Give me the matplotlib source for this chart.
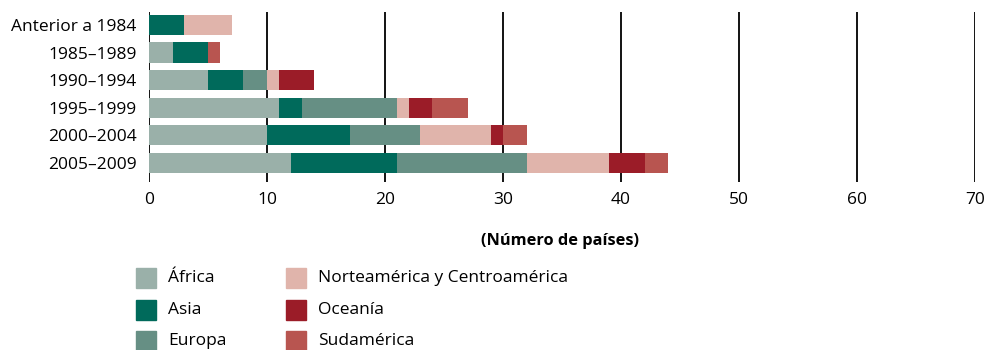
import matplotlib
matplotlib.use('Agg')
import matplotlib.pyplot as plt
from matplotlib.patches import Rectangle

periods = ['Anterior a 1984', '1985–1989', '1990–1994', '1995–1999', '2000–2004', '2005–2009']
regions = ['África', 'Asia', 'Europa', 'Norteamérica y Centroamérica', 'Oceanía', 'Sudamérica']
africa = [0, 2, 5, 11, 10, 12]
asia = [3, 3, 3, 2, 7, 9]
europa = [0, 0, 2, 8, 6, 11]
norteamerica = [4, 0, 1, 1, 6, 7]
oceania = [0, 0, 3, 2, 1, 3]
sudamerica = [0, 1, 0, 3, 2, 2]
xticks = [0, 10, 20, 30, 40, 50, 60, 70]

colors = ['#9AB0A9', '#006A5B', '#668F84', '#E0B4AB', '#9B1C28', '#B85550']
series = [africa, asia, europa, norteamerica, oceania, sudamerica]

plt.rcParams['font.family'] = ['Open Sans', 'DejaVu Sans']

W, H = 986, 350
fig = plt.figure(figsize=(W / 100, H / 100), dpi=100)
ax = fig.add_axes([149 / W, 1 - 182 / H, (975 - 149) / W, (182 - 12) / H])

ypos = list(range(len(periods)))
left = [0] * len(periods)
for vals, col in zip(series, colors):
    ax.barh(ypos, vals, left=left, height=0.73, color=col, zorder=3)
    left = [l + v for l, v in zip(left, vals)]

for x in xticks:
    ax.axvline(x, color='black', linewidth=1.3, zorder=1)

ax.set_xlim(0, 70)
ax.set_ylim(5.69, -0.47)
ax.set_yticks(ypos)
ax.set_yticklabels(periods, fontsize=12.5)
ax.set_xticks(xticks)
ax.set_xticklabels([str(x) for x in xticks], fontsize=12.5)
ax.tick_params(axis='y', length=0, pad=9)
ax.tick_params(axis='x', length=0, pad=7)
for s in ax.spines.values():
    s.set_visible(False)

fig.text(560 / W, 1 - 241 / H, '(Número de países)', fontsize=11.8, fontweight='bold',
         ha='center', va='center')

# legend
for i, (name, col) in enumerate(zip(regions, colors)):
    c, r = divmod(i, 3)
    x0 = [136, 286][c]
    y0 = 268 + r * 31.5
    fig.patches.append(Rectangle((x0 / W, 1 - (y0 + 20) / H), 20 / W, 20 / H,
                                 transform=fig.transFigure, color=col))
    fig.text((x0 + 32) / W, 1 - (y0 + 10) / H, name, fontsize=12.5, ha='left', va='center')

fig.savefig('out.png', dpi=100)
